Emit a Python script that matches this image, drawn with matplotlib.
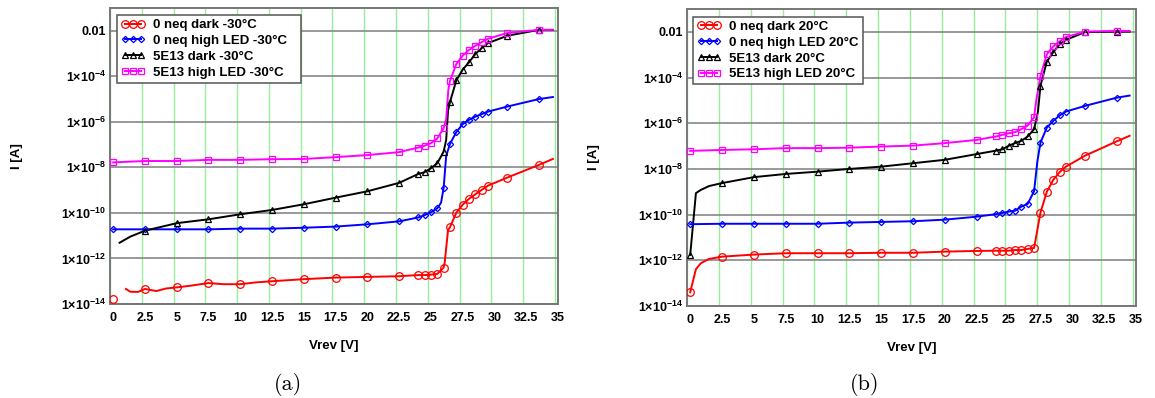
import numpy as np
import matplotlib
matplotlib.use("Agg")
import matplotlib.pyplot as plt
from matplotlib.lines import Line2D
from matplotlib.ticker import NullLocator, FuncFormatter

plt.rcParams['font.family'] = ['Liberation Sans', 'DejaVu Sans']
plt.rcParams['font.weight'] = 'bold'
plt.rcParams['mathtext.fontset'] = 'custom'
plt.rcParams['mathtext.rm'] = 'Liberation Sans:bold'
plt.rcParams['mathtext.it'] = 'Liberation Sans:bold'
plt.rcParams['mathtext.bf'] = 'Liberation Sans:bold'

# voltages where a marker is drawn (same for every curve)
mark_v = [0, 2.5, 5, 7.5, 10, 12.5, 15, 17.5, 20, 22.5, 24, 24.5, 25, 25.5,
          26, 26.5, 27, 27.5, 28, 28.5, 29, 29.5, 31, 33.5]

# (a) -30 C, currents given as log10(I/A)
a_v_red = [0, 1.0, 1.35, 1.95, 2.5, 3.4, 4.15, 5, 6.05, 7.5, 8.65, 10, 11.25, 12.5,
           15, 17.5, 20, 22.5, 24, 24.5, 25, 25.5, 26, 26.08, 26.35,
           26.5, 27, 27.5, 28, 28.5, 29, 29.5, 31, 33.5, 34.6]
a_e_red = [-13.78, -13.34, -13.46, -13.47, -13.34, -13.43, -13.32, -13.27, -13.2, -13.08, -13.13, -13.13, -13.05, -13.0,
           -12.91, -12.84, -12.81, -12.78, -12.73, -12.73, -12.71, -12.68, -12.4, -12.2, -10.75,
           -10.63, -9.99, -9.64, -9.38, -9.18, -8.99, -8.8, -8.45, -7.89, -7.63]
a_v_blue = [0, 2.5, 5, 7.5, 10, 12.5, 15, 17.5, 20, 22.5, 24, 24.5, 25, 25.5, 25.8, 26, 26.2,
            26.5, 27, 27.5, 28, 28.5, 29, 29.5, 31, 33.5, 34.6]
a_e_blue = [-10.72, -10.72, -10.72, -10.72, -10.69, -10.69, -10.65, -10.6, -10.5, -10.37,
            -10.2, -10.1, -9.97, -9.8, -9.55, -8.91, -7.5,
            -6.97, -6.45, -6.1, -5.91, -5.77, -5.66, -5.55, -5.33, -5.0, -4.91]
a_v_black = [0.5, 1.35, 2.5, 5, 7.5, 10, 12.5, 15, 17.5, 20, 22.5, 24, 24.5, 25, 25.5, 26,
             26.2, 26.35, 26.5, 27, 27.5, 28, 28.5, 29, 29.5, 31, 33.5, 34.6]
a_e_black = [-11.31, -11.04, -10.78, -10.45, -10.28, -10.06, -9.87, -9.62, -9.33, -9.05, -8.68,
             -8.29, -8.21, -8.04, -7.82, -7.31, -6.8, -5.5,
             -5.13, -4.18, -3.71, -3.38, -3.02, -2.76, -2.54, -2.22, -1.96, -1.96]
a_v_mag = [0, 2.5, 5, 7.5, 10, 12.5, 15, 17.5, 20, 22.5, 24, 24.5, 25, 25.5, 26, 26.2, 26.37,
           26.5, 27, 27.5, 28, 28.5, 29, 29.5, 31, 33.5, 34.6]
a_e_mag = [-7.78, -7.72, -7.72, -7.67, -7.67, -7.64, -7.63, -7.55, -7.46, -7.33,
           -7.13, -7.05, -6.94, -6.73, -6.28, -5.9, -4.6,
           -4.2, -3.46, -3.09, -2.84, -2.66, -2.5, -2.35, -2.1, -1.96, -1.96]

# (b) 20 C
b_v_red = [0, 0.45, 0.83, 1.48, 2.5, 5, 7.5, 10, 12.5, 15, 17.5, 20, 22.5,
           24, 24.5, 25, 25.5, 26, 26.5, 27, 27.5, 28, 28.5, 29, 29.5, 31, 33.5, 34.5]
b_e_red = [-13.4, -12.39, -12.13, -11.94, -11.84, -11.75, -11.69, -11.69, -11.69, -11.67, -11.67, -11.62, -11.59,
           -11.58, -11.58, -11.58, -11.55, -11.55, -11.5, -11.46, -9.91, -9.0, -8.48, -8.14, -7.9,
           -7.42, -6.79, -6.55]
b_v_blue = [0, 2.5, 5, 7.5, 10, 12.5, 15, 17.5, 20, 22.5, 24, 24.5, 25, 25.5, 26, 26.5, 27, 27.25,
            27.5, 28, 28.5, 29, 29.5, 31, 33.5, 34.5]
b_e_blue = [-10.42, -10.4, -10.4, -10.4, -10.4, -10.35, -10.32, -10.29, -10.22, -10.09,
            -9.98, -9.93, -9.87, -9.83, -9.65, -9.53, -8.97, -7.7,
            -6.85, -6.19, -5.9, -5.66, -5.49, -5.24, -4.88, -4.79]
b_v_black = [0, 0.45, 0.83, 1.48, 2.5, 5, 7.5, 10, 12.5, 15, 17.5, 20, 22.5,
             24, 24.5, 25, 25.5, 26, 26.5, 27, 27.3, 27.5, 28, 28.5, 29, 29.5, 31, 33.5, 34.5]
b_e_black = [-11.77, -9.06, -8.92, -8.75, -8.62, -8.36, -8.22, -8.12, -8.0, -7.9, -7.75, -7.6, -7.35,
             -7.2, -7.14, -6.99, -6.87, -6.77, -6.58, -6.26, -5.5, -4.36, -3.3, -2.89, -2.54, -2.35,
             -2.01, -1.99, -1.99]
b_v_mag = [0, 2.5, 5, 7.5, 10, 12.5, 15, 17.5, 20, 22.5, 24, 24.5, 25, 25.5, 26, 26.5, 27, 27.17,
           27.5, 28, 28.5, 29, 29.5, 31, 33.5, 34.5]
b_e_mag = [-7.21, -7.17, -7.14, -7.09, -7.09, -7.07, -7.02, -6.98, -6.87, -6.73,
           -6.58, -6.51, -6.44, -6.39, -6.26, -6.1, -5.74, -5.0,
           -3.93, -2.98, -2.64, -2.42, -2.23, -1.99, -1.96, -1.96]

a_labels = ["0 neq dark -30°C", "0 neq high LED -30°C", "5E13 dark -30°C", "5E13 high LED -30°C"]
b_labels = ["0 neq dark 20°C", "0 neq high LED 20°C", "5E13 dark 20°C", "5E13 high LED 20°C"]

colors = ['#ff0000', '#0000ff', '#000000', '#ff00ff']
markers = ['o', 'D', '^', 's']
msizes = [5.5, 3.2, 4.5, 4.2]

x_ticks = np.arange(0, 35.1, 2.5)
grid_shift = 0.25  # the original draws its grid lines a few px left of the labels


def y_fmt(y, pos):
    e = int(round(np.log10(y)))
    if e == -2:
        return '0.01'
    return r'$1{\times}10^{%d}$' % e


def draw(ax, series, labels, leg_box):
    for (v, e, start), col, mk, ms in zip(series, colors, markers, msizes):
        v = np.array(v, dtype=float)
        cur = 10.0 ** np.array(e)
        ax.plot(v[start:], cur[start:], color=col, lw=1.4, zorder=3)
        sel = np.isin(v, mark_v)
        ax.plot(v[sel], cur[sel], ls='none', marker=mk, ms=ms, mfc='none',
                mec=col, mew=0.9, zorder=4)

    ax.set_yscale('log')
    ax.set_ylim(1e-14, 1e-1)
    ax.set_xlim(-0.22, 34.76)
    ax.set_yticks([10.0 ** k for k in range(-14, -1, 2)])
    ax.yaxis.set_minor_locator(NullLocator())
    ax.yaxis.set_major_formatter(FuncFormatter(y_fmt))
    ax.set_xticks(x_ticks)
    ax.set_xticklabels(['%g' % t for t in x_ticks])
    ax.set_xticks(x_ticks - grid_shift, minor=True)
    ax.tick_params(which='both', length=0, labelsize=9)
    ax.tick_params(axis='x', pad=6)
    ax.tick_params(axis='y', pad=3)
    ax.xaxis.grid(True, which='minor', color='#99ee99', lw=1.0)
    ax.yaxis.grid(True, which='major', color='#888888', lw=1.2)
    ax.set_axisbelow(True)
    for sp in ax.spines.values():
        sp.set_color('#777777')
        sp.set_linewidth(1.4)

    ax.set_xlabel('Vrev [V]', fontsize=9.5, fontweight='bold')
    ax.xaxis.set_label_coords(0.5, -0.12)
    ax.set_ylabel('I [A]', fontsize=9.5, fontweight='bold')
    ax.yaxis.set_label_coords(-0.194, 0.5)

    handles = [Line2D([], [], color=c, marker=m, ms=s, mfc='none', mec=c, mew=0.9, lw=1.4)
               for c, m, s in zip(colors, markers, msizes)]
    leg = ax.legend(handles, labels, loc='upper left', bbox_to_anchor=leg_box,
                    mode='expand', numpoints=3, fontsize=9.5, handlelength=1.8,
                    handletextpad=0.6, labelspacing=0.27, borderpad=0.3,
                    borderaxespad=0.0, fancybox=False, framealpha=1.0,
                    edgecolor='#555555')
    leg.get_frame().set_linewidth(1.1)
    for t in leg.get_texts():
        t.set_fontweight('bold')


fig = plt.figure(figsize=(11.55, 3.98), dpi=100)
ax1 = fig.add_axes([110 / 1155, 1 - 304 / 398, 448 / 1155, 296 / 398])
ax2 = fig.add_axes([687 / 1155, 1 - 306 / 398, 449 / 1155, 297 / 398])

draw(ax1, [(a_v_red, a_e_red, 1), (a_v_blue, a_e_blue, 0),
           (a_v_black, a_e_black, 0), (a_v_mag, a_e_mag, 0)], a_labels,
     (0.0163, 0.5, 0.409, 0.476))
draw(ax2, [(b_v_red, b_e_red, 0), (b_v_blue, b_e_blue, 0),
           (b_v_black, b_e_black, 0), (b_v_mag, b_e_mag, 0)], b_labels,
     (0.0134, 0.5, 0.379, 0.474))

fig.text(288 / 1155, 1 - 384 / 398, '(a)', family='cmr10', fontweight='normal',
         fontsize=16, ha='center', va='center')
fig.text(865 / 1155, 1 - 384 / 398, '(b)', family='cmr10', fontweight='normal',
         fontsize=16, ha='center', va='center')

fig.savefig('out.png', dpi=100)
